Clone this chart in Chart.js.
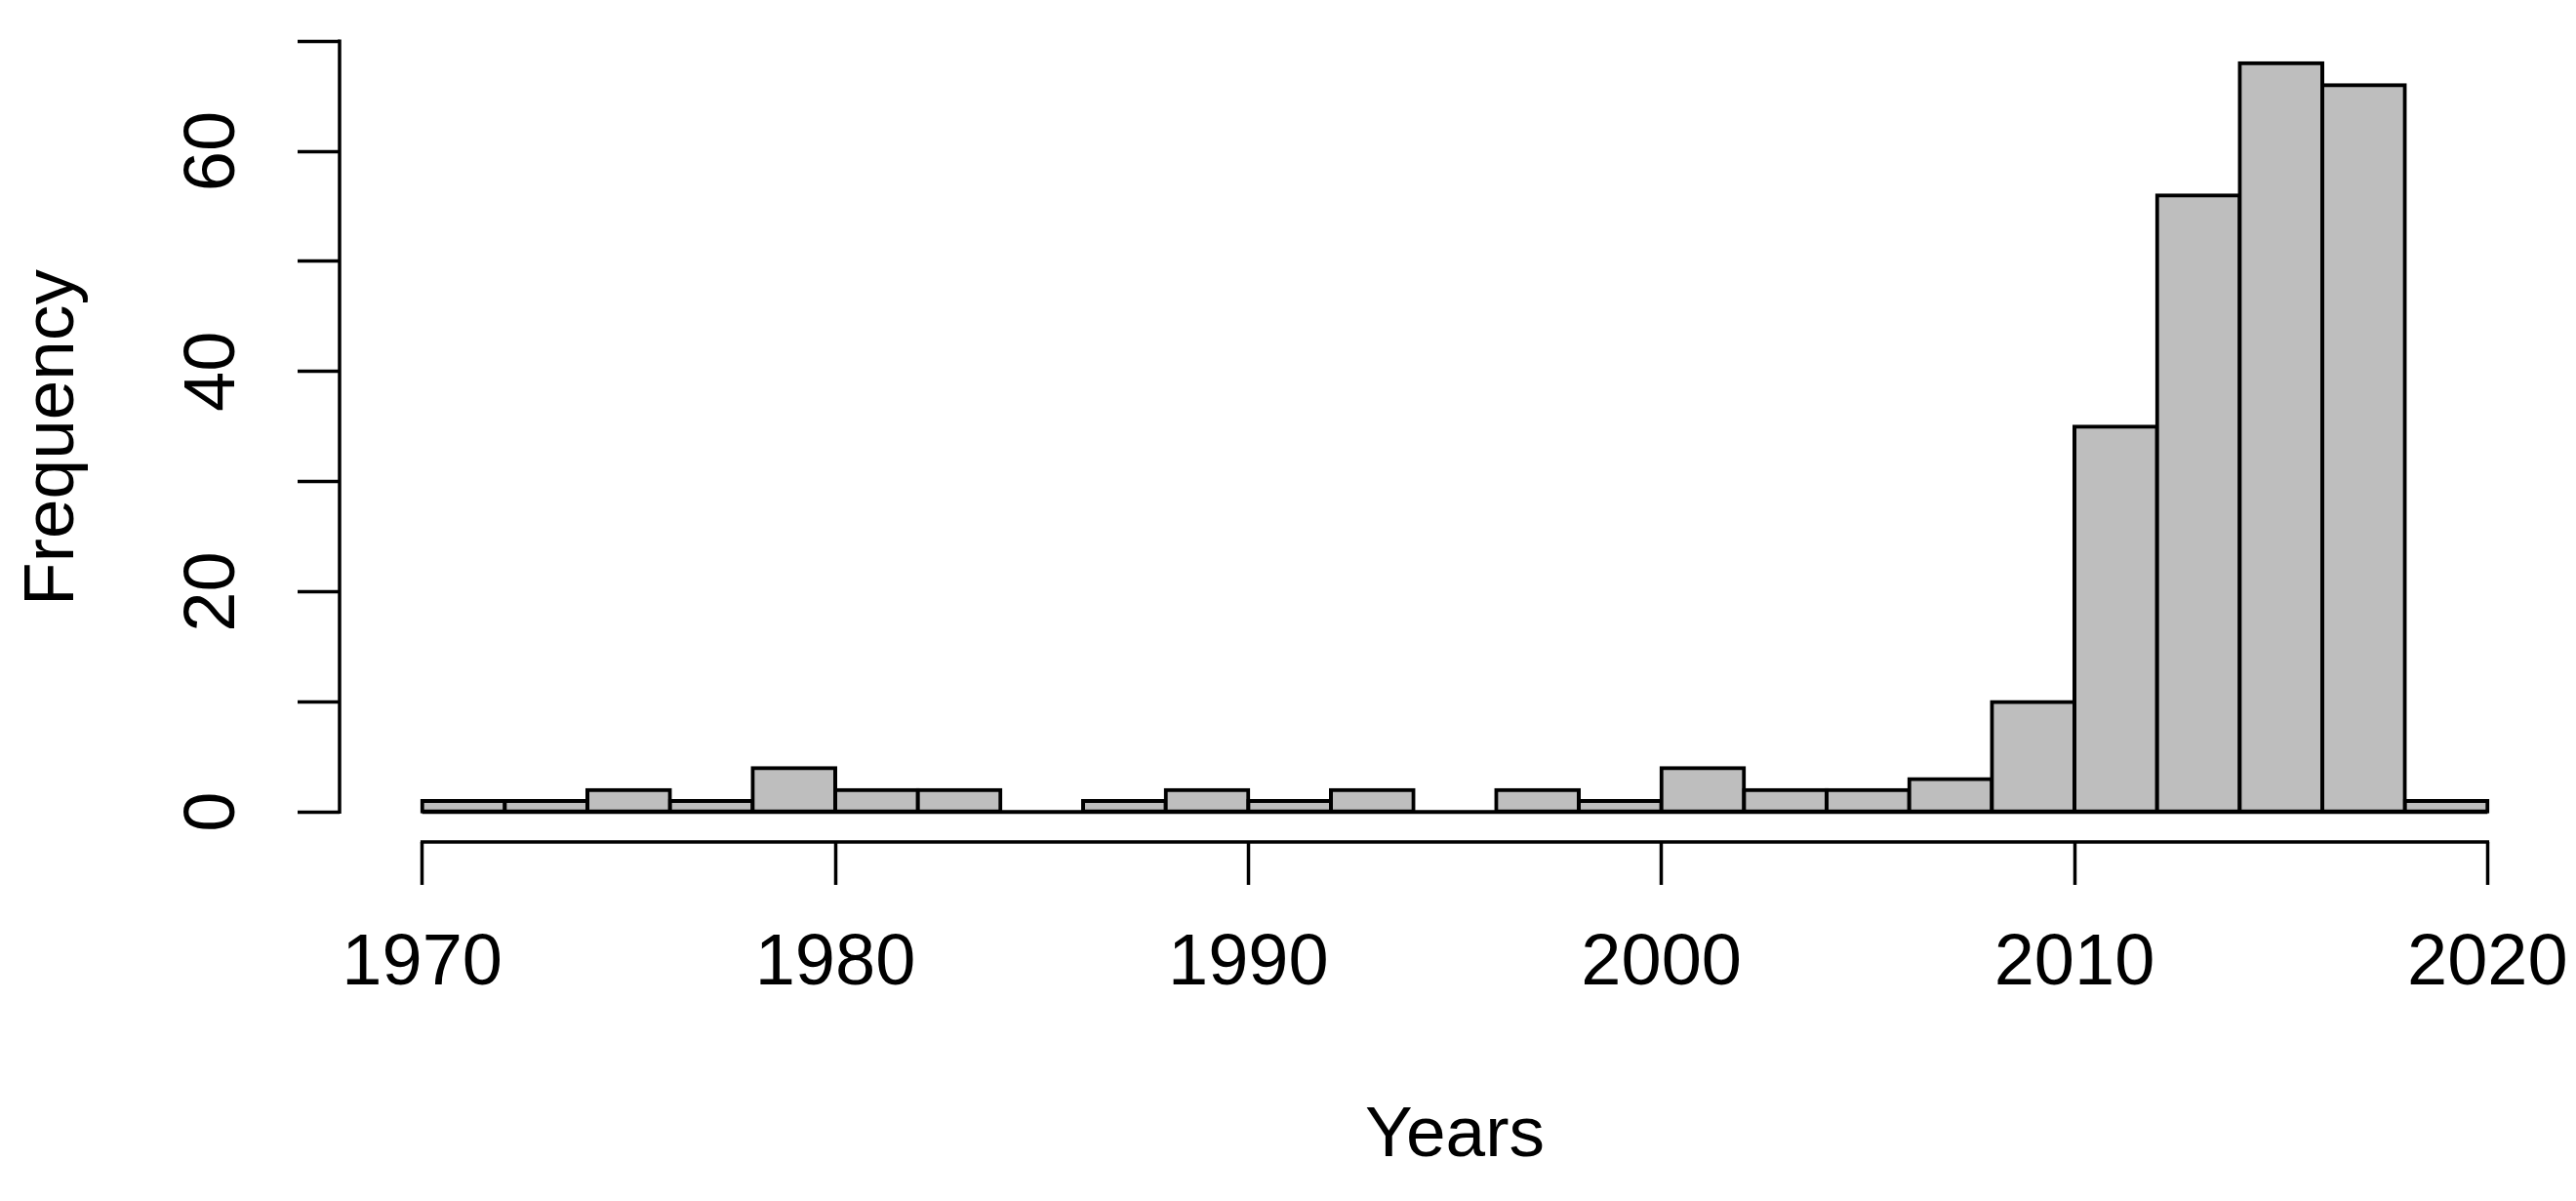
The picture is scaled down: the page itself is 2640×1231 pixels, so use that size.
<!DOCTYPE html>
<html>
<head>
<meta charset="utf-8">
<script src="https://cdn.jsdelivr.net/npm/chart.js@4/dist/chart.umd.min.js"></script>
<style>
  html, body { margin: 0; padding: 0; background: #ffffff; }
  canvas { display: block; }
</style>
</head>
<body>
<canvas id="c" width="2640" height="1231"></canvas>
<script>
// ---- data (histogram of Years, 2-year bins from 1970 to 2020) ----
const binCenters = [1971, 1973, 1975, 1977, 1979, 1981, 1983, 1985, 1987, 1989, 1991, 1993, 1995,
                    1997, 1999, 2001, 2003, 2005, 2007, 2009, 2011, 2013, 2015, 2017, 2019];
const frequency  = [1, 1, 2, 1, 4, 2, 2, 0, 1, 2, 1, 2, 0,
                    2, 1, 4, 2, 2, 3, 10, 35, 56, 68, 66, 1];
const binRange   = [1970, 2020];
const xTicks     = [1970, 1980, 1990, 2000, 2010, 2020];
const xTickLabels = ['1970', '1980', '1990', '2000', '2010', '2020'];
const yTicks     = [0, 10, 20, 30, 40, 50, 60, 70];
const yTickLabels = ['0', '', '20', '', '40', '', '60', ''];
const xTitle = 'Years';
const yTitle = 'Frequency';

const FONT = '"Liberation Sans", Arial, sans-serif';

const axisLines = {
  id: 'axisLines',
  afterDraw(chart) {
    const ctx = chart.ctx, xs = chart.scales.x, ys = chart.scales.y, ca = chart.chartArea;
    ctx.save();
    ctx.strokeStyle = '#000';
    ctx.lineWidth = 3.5;
    ctx.lineCap = 'square';
    ctx.beginPath();
    const yb = ca.bottom;
    ctx.moveTo(xs.getPixelForValue(xTicks[0]), yb);
    ctx.lineTo(xs.getPixelForValue(xTicks[xTicks.length - 1]), yb);
    const xl = ca.left;
    ctx.moveTo(xl, ys.getPixelForValue(yTicks[0]));
    ctx.lineTo(xl, ys.getPixelForValue(yTicks[yTicks.length - 1]));
    ctx.stroke();
    ctx.restore();
  }
};

new Chart(document.getElementById('c'), {
  type: 'bar',
  data: {
    datasets: [
      {
        type: 'line',
        data: binRange.map(v => ({ x: v, y: 0 })),
        borderColor: '#000',
        borderWidth: 4,
        pointRadius: 0,
        fill: false,
        order: 2
      },
      {
        type: 'bar',
        data: binCenters.map((c, i) => ({ x: c, y: frequency[i] === 0 ? null : frequency[i] })),
        backgroundColor: 'rgb(190,190,190)',
        borderColor: '#000',
        borderWidth: 4,
        inflateAmount: 2,
        borderSkipped: false,
        barPercentage: 1,
        categoryPercentage: 1,
        order: 1
      }
    ]
  },
  options: {
    responsive: false,
    animation: false,
    devicePixelRatio: 1,
    layout: { padding: { top: 34, right: 6, bottom: 0, left: 0 } },
    plugins: { legend: { display: false }, tooltip: { enabled: false } },
    scales: {
      x: {
        type: 'linear',
        min: 1968,
        max: 2022,
        offset: false,
        afterBuildTicks: s => { s.ticks = xTicks.map(v => ({ value: v })); },
        afterFit: s => { s.height = 368; s.paddingLeft = 0; s.paddingRight = 0; },
        grid: { display: true, offset: false, drawOnChartArea: false, drawTicks: true, tickLength: 44, tickColor: '#000', tickWidth: 3.5 },
        border: { display: false },
        ticks: {
          color: '#000',
          font: { family: FONT, size: 74 },
          padding: 37,
          maxRotation: 0,
          minRotation: 0,
          autoSkip: false,
          callback: (v) => { const i = xTicks.indexOf(v); return i >= 0 ? xTickLabels[i] : ''; }
        },
        title: {
          display: true,
          text: xTitle,
          color: '#000',
          font: { family: FONT, size: 73 },
          padding: { top: 0, bottom: 22 }
        }
      },
      y: {
        type: 'linear',
        min: -2.72,
        max: 70.72,
        afterBuildTicks: s => { s.ticks = yTicks.map(v => ({ value: v })); },
        afterFit: s => { s.width = 348; s.paddingTop = 0; s.paddingBottom = 0; },
        grid: { display: true, drawOnChartArea: false, drawTicks: true, tickLength: 43, tickColor: '#000', tickWidth: 3.5 },
        border: { display: false },
        ticks: {
          color: '#000',
          font: { family: FONT, size: 74 },
          padding: 44,
          minRotation: 90,
          maxRotation: 90,
          crossAlign: 'center',
          autoSkip: false,
          callback: (v) => { const i = yTicks.indexOf(v); return i >= 0 ? yTickLabels[i] : ''; }
        },
        title: {
          display: true,
          text: yTitle,
          color: '#000',
          font: { family: FONT, size: 73 },
          padding: { top: 11, bottom: 0 }
        }
      }
    }
  },
  plugins: [axisLines]
});
</script>
</body>
</html>
